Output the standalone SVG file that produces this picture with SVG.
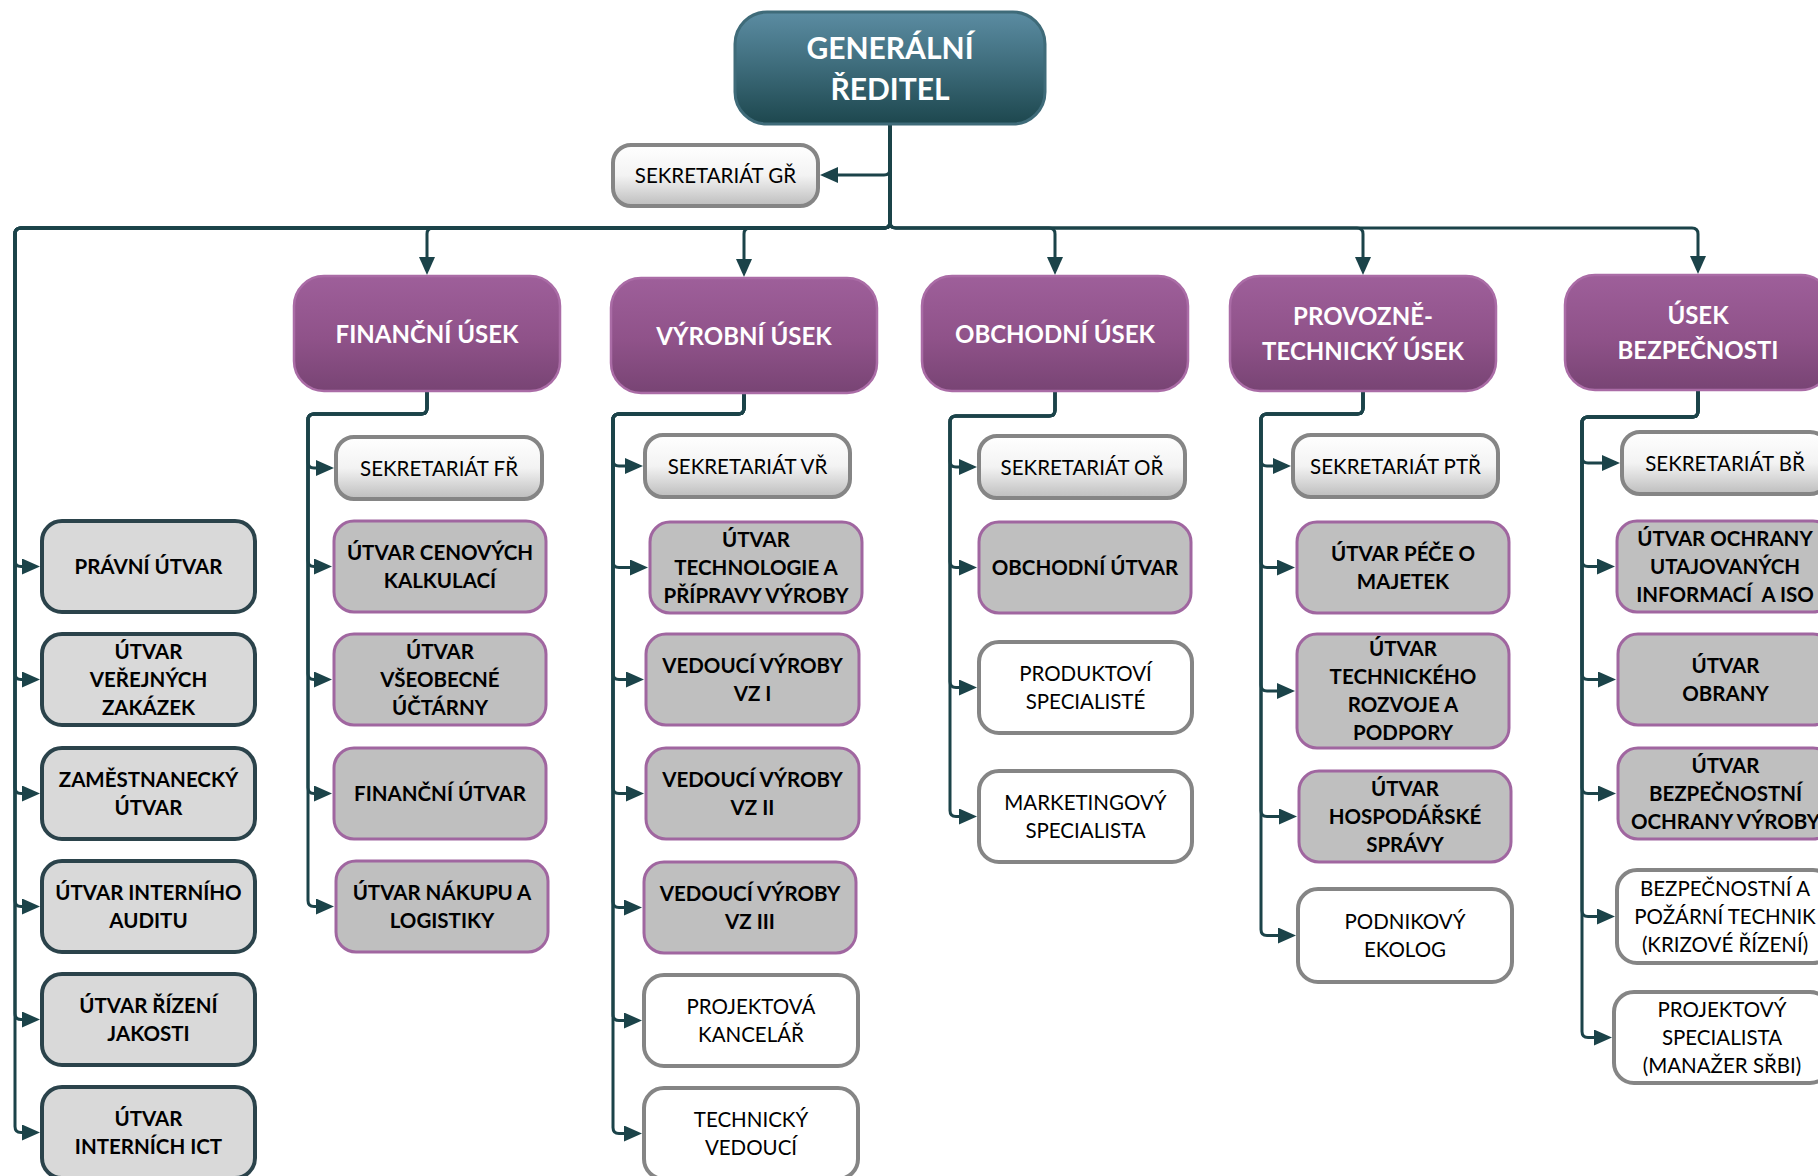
<svg xmlns="http://www.w3.org/2000/svg" width="1818" height="1176" viewBox="0 0 1818 1176">
<defs>
<linearGradient id="gTop" x1="0" y1="0" x2="0" y2="1">
<stop offset="0" stop-color="#5b8ca2"/><stop offset="0.5" stop-color="#3d6b7a"/><stop offset="1" stop-color="#1d474e"/>
</linearGradient>
<linearGradient id="gPur" x1="0" y1="0" x2="0" y2="1">
<stop offset="0" stop-color="#9e5f9a"/><stop offset="0.55" stop-color="#8f5289"/><stop offset="1" stop-color="#784474"/>
</linearGradient>
<linearGradient id="gSek" x1="0" y1="0" x2="0" y2="1">
<stop offset="0" stop-color="#ffffff"/><stop offset="0.5" stop-color="#f3f3f3"/><stop offset="1" stop-color="#bdbdbd"/>
</linearGradient>
<marker id="arr" viewBox="0 0 18 16" refX="14" refY="8" markerWidth="18" markerHeight="16" markerUnits="userSpaceOnUse" orient="auto">
<path d="M0,0 L18,8 L0,16 z" fill="#1b4349"/>
</marker>
</defs>
<style>
.conn path{fill:none;stroke:#1b4349;stroke-width:3;marker-end:url(#arr)}
text{font-family:Lato,'Open Sans','Liberation Sans',sans-serif;text-anchor:middle}
.top rect{fill:url(#gTop);stroke:#3f6b79;stroke-width:3}
.top text{font-size:30px;font-weight:700;fill:#ffffff}
.div rect{fill:url(#gPur);stroke:#aa6ca6;stroke-width:2.5}
.div text{font-size:24px;font-weight:700;fill:#ffffff}
.lft rect{fill:#d9d9d9;stroke:#2b434b;stroke-width:4}
.pur rect{fill:#bfbfbf;stroke:#a066a0;stroke-width:3}
.sek rect{fill:url(#gSek);stroke:#858585;stroke-width:4}
.wht rect{fill:#ffffff;stroke:#858585;stroke-width:4}
.lft text,.pur text{font-size:20.5px;font-weight:700;fill:#000000}
.sek text,.wht text{font-size:20.5px;font-weight:400;fill:#000000}
</style>

<g class="conn" id="connectors">
<path d="M890,124 V169 Q890,175 884,175 H824"/>
<path d="M890,124 V222 Q890,228 884,228 H21 Q15,228 15,234 V560.5 Q15,566.5 21,566.5 H36"/>
<path d="M890,124 V222 Q890,228 884,228 H21 Q15,228 15,234 V673.5 Q15,679.5 21,679.5 H36"/>
<path d="M890,124 V222 Q890,228 884,228 H21 Q15,228 15,234 V787.5 Q15,793.5 21,793.5 H36"/>
<path d="M890,124 V222 Q890,228 884,228 H21 Q15,228 15,234 V900.5 Q15,906.5 21,906.5 H36"/>
<path d="M890,124 V222 Q890,228 884,228 H21 Q15,228 15,234 V1013.5 Q15,1019.5 21,1019.5 H36"/>
<path d="M890,124 V222 Q890,228 884,228 H21 Q15,228 15,234 V1126.5 Q15,1132.5 21,1132.5 H36"/>
<path d="M890,124 V222 Q890,228 884,228 H433 Q427,228 427,234 V271"/>
<path d="M890,124 V222 Q890,228 884,228 H750 Q744,228 744,234 V273"/>
<path d="M890,124 V222 Q890,228 896,228 H1049 Q1055,228 1055,234 V271"/>
<path d="M890,124 V222 Q890,228 896,228 H1357 Q1363,228 1363,234 V271"/>
<path d="M890,124 V222 Q890,228 896,228 H1692 Q1698,228 1698,234 V270"/>
<path d="M427,391 V408 Q427,414 421,414 H314 Q308,414 308,420 V462 Q308,468 314,468 H330"/>
<path d="M427,391 V408 Q427,414 421,414 H314 Q308,414 308,420 V560.5 Q308,566.5 314,566.5 H328"/>
<path d="M427,391 V408 Q427,414 421,414 H314 Q308,414 308,420 V673.5 Q308,679.5 314,679.5 H328"/>
<path d="M427,391 V408 Q427,414 421,414 H314 Q308,414 308,420 V787.5 Q308,793.5 314,793.5 H328"/>
<path d="M427,391 V408 Q427,414 421,414 H314 Q308,414 308,420 V900.5 Q308,906.5 314,906.5 H330"/>
<path d="M744,393 V408 Q744,414 738,414 H619 Q613,414 613,420 V460 Q613,466 619,466 H639"/>
<path d="M744,393 V408 Q744,414 738,414 H619 Q613,414 613,420 V561.5 Q613,567.5 619,567.5 H644"/>
<path d="M744,393 V408 Q744,414 738,414 H619 Q613,414 613,420 V673.5 Q613,679.5 619,679.5 H640"/>
<path d="M744,393 V408 Q744,414 738,414 H619 Q613,414 613,420 V787.5 Q613,793.5 619,793.5 H640"/>
<path d="M744,393 V408 Q744,414 738,414 H619 Q613,414 613,420 V901.5 Q613,907.5 619,907.5 H638"/>
<path d="M744,393 V408 Q744,414 738,414 H619 Q613,414 613,420 V1014.5 Q613,1020.5 619,1020.5 H638"/>
<path d="M744,393 V408 Q744,414 738,414 H619 Q613,414 613,420 V1127.5 Q613,1133.5 619,1133.5 H638"/>
<path d="M1055,391 V410 Q1055,416 1049,416 H956 Q950,416 950,422 V461 Q950,467 956,467 H973"/>
<path d="M1055,391 V410 Q1055,416 1049,416 H956 Q950,416 950,422 V561.5 Q950,567.5 956,567.5 H973"/>
<path d="M1055,391 V410 Q1055,416 1049,416 H956 Q950,416 950,422 V681.5 Q950,687.5 956,687.5 H973"/>
<path d="M1055,391 V410 Q1055,416 1049,416 H956 Q950,416 950,422 V810.5 Q950,816.5 956,816.5 H973"/>
<path d="M1363,391 V408 Q1363,414 1357,414 H1267 Q1261,414 1261,420 V460 Q1261,466 1267,466 H1287"/>
<path d="M1363,391 V408 Q1363,414 1357,414 H1267 Q1261,414 1261,420 V561.5 Q1261,567.5 1267,567.5 H1291"/>
<path d="M1363,391 V408 Q1363,414 1357,414 H1267 Q1261,414 1261,420 V685 Q1261,691 1267,691 H1291"/>
<path d="M1363,391 V408 Q1363,414 1357,414 H1267 Q1261,414 1261,420 V810.5 Q1261,816.5 1267,816.5 H1293"/>
<path d="M1363,391 V408 Q1363,414 1357,414 H1267 Q1261,414 1261,420 V929.5 Q1261,935.5 1267,935.5 H1292"/>
<path d="M1698,390 V411 Q1698,417 1692,417 H1588 Q1582,417 1582,423 V457 Q1582,463 1588,463 H1616"/>
<path d="M1698,390 V411 Q1698,417 1692,417 H1588 Q1582,417 1582,423 V560.5 Q1582,566.5 1588,566.5 H1611"/>
<path d="M1698,390 V411 Q1698,417 1692,417 H1588 Q1582,417 1582,423 V673.5 Q1582,679.5 1588,679.5 H1612"/>
<path d="M1698,390 V411 Q1698,417 1692,417 H1588 Q1582,417 1582,423 V787.5 Q1582,793.5 1588,793.5 H1612"/>
<path d="M1698,390 V411 Q1698,417 1692,417 H1588 Q1582,417 1582,423 V910.5 Q1582,916.5 1588,916.5 H1611"/>
<path d="M1698,390 V411 Q1698,417 1692,417 H1588 Q1582,417 1582,423 V1031.5 Q1582,1037.5 1588,1037.5 H1608"/>
</g>

<g id="n-gr" class="top"><rect x="735" y="12" width="310" height="112" rx="32"/><text><tspan x="890" y="59">GENERÁLNÍ</tspan><tspan x="890" y="100">ŘEDITEL</tspan></text></g>
<g id="n-sek-gr" class="sek"><rect x="613" y="145" width="205" height="61" rx="18"/><text x="715.5" y="183">SEKRETARIÁT GŘ</text></g>

<g id="n-pravni" class="lft"><rect x="42" y="521" width="213" height="91" rx="20"/><text x="148.5" y="574">PRÁVNÍ ÚTVAR</text></g>
<g id="n-verejne" class="lft"><rect x="42" y="634" width="213" height="91" rx="20"/><text><tspan x="148.5" y="659">ÚTVAR</tspan><tspan x="148.5" y="687">VEŘEJNÝCH</tspan><tspan x="148.5" y="715">ZAKÁZEK</tspan></text></g>
<g id="n-zamest" class="lft"><rect x="42" y="748" width="213" height="91" rx="20"/><text><tspan x="148.5" y="787">ZAMĚSTNANECKÝ</tspan><tspan x="148.5" y="815">ÚTVAR</tspan></text></g>
<g id="n-audit" class="lft"><rect x="42" y="861" width="213" height="91" rx="20"/><text><tspan x="148.5" y="900">ÚTVAR INTERNÍHO</tspan><tspan x="148.5" y="928">AUDITU</tspan></text></g>
<g id="n-jakost" class="lft"><rect x="42" y="974" width="213" height="91" rx="20"/><text><tspan x="148.5" y="1013">ÚTVAR ŘÍZENÍ</tspan><tspan x="148.5" y="1041">JAKOSTI</tspan></text></g>
<g id="n-ict" class="lft"><rect x="42" y="1087" width="213" height="91" rx="20"/><text><tspan x="148.5" y="1126">ÚTVAR</tspan><tspan x="148.5" y="1154">INTERNÍCH ICT</tspan></text></g>

<g id="n-fin" class="div"><rect x="294" y="276" width="266" height="115" rx="30"/><text x="427" y="342.5">FINANČNÍ ÚSEK</text></g>
<g id="n-sek-fr" class="sek"><rect x="336" y="437" width="206" height="62" rx="18"/><text x="439" y="475.5">SEKRETARIÁT FŘ</text></g>
<g id="n-cen" class="pur"><rect x="334" y="521" width="212" height="91" rx="20"/><text><tspan x="440" y="560">ÚTVAR CENOVÝCH</tspan><tspan x="440" y="588">KALKULACÍ</tspan></text></g>
<g id="n-ucta" class="pur"><rect x="334" y="634" width="212" height="91" rx="20"/><text><tspan x="440" y="659">ÚTVAR</tspan><tspan x="440" y="687">VŠEOBECNÉ</tspan><tspan x="440" y="715">ÚČTÁRNY</tspan></text></g>
<g id="n-finutv" class="pur"><rect x="334" y="748" width="212" height="91" rx="20"/><text x="440" y="801">FINANČNÍ ÚTVAR</text></g>
<g id="n-nakup" class="pur"><rect x="336" y="861" width="212" height="91" rx="20"/><text><tspan x="442" y="900">ÚTVAR NÁKUPU A</tspan><tspan x="442" y="928">LOGISTIKY</tspan></text></g>

<g id="n-vyr" class="div"><rect x="611" y="278" width="266" height="115" rx="30"/><text x="744" y="344.5">VÝROBNÍ ÚSEK</text></g>
<g id="n-sek-vr" class="sek"><rect x="645" y="435" width="205" height="62" rx="18"/><text x="747.5" y="473.5">SEKRETARIÁT VŘ</text></g>
<g id="n-tech" class="pur"><rect x="650" y="522" width="212" height="91" rx="20"/><text><tspan x="756" y="547">ÚTVAR</tspan><tspan x="756" y="575">TECHNOLOGIE A</tspan><tspan x="756" y="603">PŘÍPRAVY VÝROBY</tspan></text></g>
<g id="n-vz1" class="pur"><rect x="646" y="634" width="213" height="91" rx="20"/><text><tspan x="752.5" y="673">VEDOUCÍ VÝROBY</tspan><tspan x="752.5" y="701">VZ I</tspan></text></g>
<g id="n-vz2" class="pur"><rect x="646" y="748" width="213" height="91" rx="20"/><text><tspan x="752.5" y="787">VEDOUCÍ VÝROBY</tspan><tspan x="752.5" y="815">VZ II</tspan></text></g>
<g id="n-vz3" class="pur"><rect x="644" y="862" width="212" height="91" rx="20"/><text><tspan x="750" y="901">VEDOUCÍ VÝROBY</tspan><tspan x="750" y="929">VZ III</tspan></text></g>
<g id="n-projk" class="wht"><rect x="644" y="975" width="214" height="91" rx="20"/><text><tspan x="751" y="1014">PROJEKTOVÁ</tspan><tspan x="751" y="1042">KANCELÁŘ</tspan></text></g>
<g id="n-techved" class="wht"><rect x="644" y="1088" width="214" height="91" rx="20"/><text><tspan x="751" y="1127">TECHNICKÝ</tspan><tspan x="751" y="1155">VEDOUCÍ</tspan></text></g>

<g id="n-obch" class="div"><rect x="922" y="276" width="266" height="115" rx="30"/><text x="1055" y="342.5">OBCHODNÍ ÚSEK</text></g>
<g id="n-sek-or" class="sek"><rect x="979" y="436" width="206" height="62" rx="18"/><text x="1082" y="474.5">SEKRETARIÁT OŘ</text></g>
<g id="n-obchutv" class="pur"><rect x="979" y="522" width="212" height="91" rx="20"/><text x="1085" y="575">OBCHODNÍ ÚTVAR</text></g>
<g id="n-prod" class="wht"><rect x="979" y="642" width="213" height="91" rx="20"/><text><tspan x="1085.5" y="681">PRODUKTOVÍ</tspan><tspan x="1085.5" y="709">SPECIALISTÉ</tspan></text></g>
<g id="n-mark" class="wht"><rect x="979" y="771" width="213" height="91" rx="20"/><text><tspan x="1085.5" y="810">MARKETINGOVÝ</tspan><tspan x="1085.5" y="838">SPECIALISTA</tspan></text></g>

<g id="n-prov" class="div"><rect x="1230" y="276" width="266" height="115" rx="30"/><text><tspan x="1363" y="325">PROVOZNĚ-</tspan><tspan x="1363" y="360">TECHNICKÝ ÚSEK</tspan></text></g>
<g id="n-sek-ptr" class="sek"><rect x="1293" y="435" width="205" height="62" rx="18"/><text x="1395.5" y="473.5">SEKRETARIÁT PTŘ</text></g>
<g id="n-pece" class="pur"><rect x="1297" y="522" width="212" height="91" rx="20"/><text><tspan x="1403" y="561">ÚTVAR PÉČE O</tspan><tspan x="1403" y="589">MAJETEK</tspan></text></g>
<g id="n-rozvoj" class="pur"><rect x="1297" y="634" width="212" height="114" rx="20"/><text><tspan x="1403" y="656">ÚTVAR</tspan><tspan x="1403" y="684">TECHNICKÉHO</tspan><tspan x="1403" y="712">ROZVOJE A</tspan><tspan x="1403" y="740">PODPORY</tspan></text></g>
<g id="n-hosp" class="pur"><rect x="1299" y="771" width="212" height="91" rx="20"/><text><tspan x="1405" y="796">ÚTVAR</tspan><tspan x="1405" y="824">HOSPODÁŘSKÉ</tspan><tspan x="1405" y="852">SPRÁVY</tspan></text></g>
<g id="n-ekolog" class="wht"><rect x="1298" y="889" width="214" height="93" rx="20"/><text><tspan x="1405" y="929">PODNIKOVÝ</tspan><tspan x="1405" y="957">EKOLOG</tspan></text></g>

<g id="n-bezp" class="div"><rect x="1565" y="275" width="266" height="115" rx="30"/><text><tspan x="1698" y="324">ÚSEK</tspan><tspan x="1698" y="359">BEZPEČNOSTI</tspan></text></g>
<g id="n-sek-br" class="sek"><rect x="1622" y="432" width="206" height="62" rx="18"/><text x="1725" y="470.5">SEKRETARIÁT BŘ</text></g>
<g id="n-utaj" class="pur"><rect x="1617" y="521" width="216" height="91" rx="20"/><text><tspan x="1725" y="546">ÚTVAR OCHRANY</tspan><tspan x="1725" y="574">UTAJOVANÝCH</tspan><tspan x="1725" y="602" style="white-space:pre">INFORMACÍ  A ISO</tspan></text></g>
<g id="n-obrana" class="pur"><rect x="1618" y="634" width="215" height="91" rx="20"/><text><tspan x="1725.5" y="673">ÚTVAR</tspan><tspan x="1725.5" y="701">OBRANY</tspan></text></g>
<g id="n-ochvyr" class="pur"><rect x="1618" y="748" width="215" height="91" rx="20"/><text><tspan x="1725.5" y="773">ÚTVAR</tspan><tspan x="1725.5" y="801">BEZPEČNOSTNÍ</tspan><tspan x="1725.5" y="829">OCHRANY VÝROBY</tspan></text></g>
<g id="n-pozar" class="wht"><rect x="1617" y="870" width="216" height="93" rx="20"/><text><tspan x="1725" y="896">BEZPEČNOSTNÍ A</tspan><tspan x="1725" y="924">POŽÁRNÍ TECHNIK</tspan><tspan x="1725" y="952">(KRIZOVÉ ŘÍZENÍ)</tspan></text></g>
<g id="n-srbi" class="wht"><rect x="1614" y="992" width="216" height="91" rx="20"/><text><tspan x="1722" y="1017">PROJEKTOVÝ</tspan><tspan x="1722" y="1045">SPECIALISTA</tspan><tspan x="1722" y="1073">(MANAŽER SŘBI)</tspan></text></g>
</svg>
